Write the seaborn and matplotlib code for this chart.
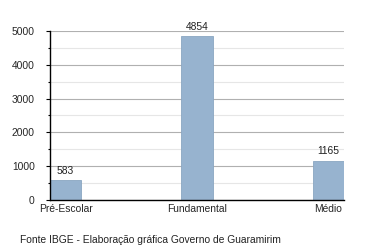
import matplotlib
matplotlib.use("Agg")
import matplotlib.pyplot as plt
import seaborn as sns
import pandas as pd
from matplotlib.ticker import MultipleLocator

categories = ["Pré-Escolar", "Fundamental", "Médio"]
values = [583, 4854, 1165]
yticks = [0, 1000, 2000, 3000, 4000, 5000]
source_text = "Fonte IBGE - Elaboração gráfica Governo de Guaramirim"

sns.set_style("white")
plt.rcParams['font.family'] = ['Liberation Sans', 'DejaVu Sans']

df = pd.DataFrame({"cat": categories, "val": values})

fig = plt.figure(figsize=(3.73, 2.5), dpi=100)
ax = fig.add_axes([50/373, 1 - 200/250, 294/373, 169/250])

sns.barplot(data=df, x="cat", y="val", ax=ax, color="#97b3cf", width=0.236,
            saturation=1, edgecolor="#8aa6c2", linewidth=0.6, zorder=3)

ax.set_xlim(-0.118, 2.118)
ax.set_ylim(0, 5000)
ax.set_yticks(yticks)
ax.set_yticklabels([str(t) for t in yticks], fontsize=7.4)
ax.yaxis.set_minor_locator(MultipleLocator(500))
ax.grid(axis="y", which="major", color="#b0b0b0", linewidth=0.8, zorder=0)
ax.grid(axis="y", which="minor", color="#e6e6e6", linewidth=0.8, zorder=0)
ax.set_axisbelow(True)
ax.tick_params(axis="y", which="major", length=3, width=0.8, color="black", pad=8, left=True)
ax.tick_params(axis="y", which="minor", length=1.5, width=0.8, color="black", left=True)
ax.tick_params(axis="x", length=0, pad=3, labelsize=7.4)
ax.set_xlabel("")
ax.set_ylabel("")
for s in ["top", "right"]:
    ax.spines[s].set_visible(False)
for s in ["left", "bottom"]:
    ax.spines[s].set_color("black")
    ax.spines[s].set_linewidth(1.0)
    ax.spines[s].set_zorder(5)

for i, v in enumerate(values):
    ax.annotate(str(v), (i, v), xytext=(0, 3), textcoords="offset points",
                ha="center", va="bottom", fontsize=7.4, color="#222222")

fig.text(20/373, 1 - 240/250, source_text, fontsize=7.4, ha="left", va="center", color="#222222")

fig.savefig("out.png", dpi=100)
